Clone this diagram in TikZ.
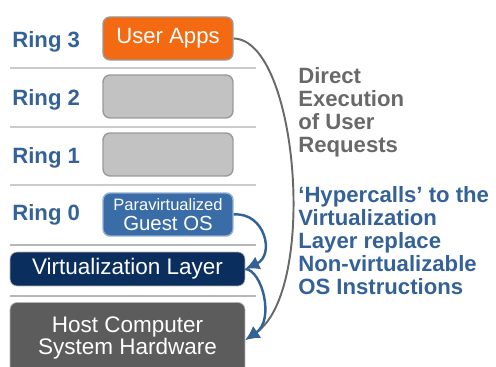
\documentclass[tikz,border=0pt]{standalone}
\usepackage{fontspec}
\setmainfont{Liberation Sans}
\usetikzlibrary{positioning,arrows.meta}

\definecolor{ringblue}{RGB}{52,98,152}
\definecolor{appsorange}{RGB}{243,106,18}
\definecolor{emptygrey}{RGB}{194,194,194}
\definecolor{guestblue}{RGB}{58,109,168}
\definecolor{layernavy}{RGB}{10,46,94}
\definecolor{hostgrey}{RGB}{92,92,92}
\definecolor{notegrey}{RGB}{105,105,105}
\definecolor{sepgrey}{RGB}{200,204,204}

\tikzset{
  ringbox/.style={draw=black!40, line width=0.8pt, rounded corners=4pt,
    minimum width=2.6cm, minimum height=0.86cm, inner sep=0pt},
  layerbox/.style={rounded corners=4pt, minimum width=4.7cm, inner sep=0pt,
    text=white, font=\fontsize{12.8}{12.5}\selectfont, align=center},
  ringlabel/.style={anchor=west, inner sep=0pt, text=ringblue,
    font=\bfseries\fontsize{12.6}{14}\selectfont},
  note/.style={anchor=north west, inner sep=0pt, align=left,
    font=\bfseries\fontsize{12.6}{13.1}\selectfont},
  hop/.style={line width=1.4pt, -{Latex[length=8pt,width=8pt]}}
}

\begin{document}
\begin{tikzpicture}[x=0.02cm,y=-0.02cm]
\useasboundingbox (0,0) rectangle (496,367);

% Separator lines between the rings
\foreach \y in {68,127,185}{
  \draw[sepgrey, line width=0.6pt] (10,\y) -- (256,\y);
}
\foreach \y in {245,296}{
  \draw[sepgrey!90!black, line width=1.4pt] (10,\y) -- (256,\y);
}

% Ring labels
\foreach \i/\y in {3/42,2/100,1/158,0/215}{
  \node[ringlabel] (ring\i) at (12,\y) {Ring \i};
}

% Boxes for the rings
\node[ringbox, fill=appsorange, text=white,
  font=\fontsize{12.6}{14}\selectfont] (apps) at (168,38.5) {User Apps};
\node[ringbox, fill=emptygrey] (r2) at (168,96.5) {};
\node[ringbox, fill=emptygrey] (r1) at (168,154.5) {};
\node[ringbox, fill=guestblue, draw=guestblue!55!white, text=white,
  align=center] (guest) at (168,214.5)
  {{\fontsize{9.4}{10}\selectfont Paravirtualized}\\[-1pt]
   {\fontsize{11.6}{12}\selectfont Guest OS}};

% Layers below the guest
\node[layerbox, fill=layernavy, draw=black!30, minimum height=0.68cm]
  (vmm) at (127.5,269) {Virtualization Layer};
\node[layerbox, fill=hostgrey, draw=black!30, minimum height=1.42cm]
  (host) at (127.5,338) {Host Computer\\System Hardware};

% Notes on the right
\node[note, text=notegrey] (direct) at (298,67)
  {Direct\\Execution\\of User\\Requests};
\node[note, text=ringblue] (hyper) at (298,186)
  {‘Hypercalls’ to the\\Virtualization\\Layer replace\\Non-virtualizable\\OS Instructions};

% Arrows
\draw[hop, notegrey, line width=1.1pt]
  (apps.east) .. controls (298,40) and (318,290) .. ([yshift=-0.04cm]host.east);
\draw[hop, ringblue]
  (guest.east) .. controls (265,212) and (275,255) .. (vmm.east);
\draw[hop, ringblue]
  (vmm.east) .. controls (262,270) and (275,320) .. ([yshift=-0.04cm]host.east);
\end{tikzpicture}
\end{document}
